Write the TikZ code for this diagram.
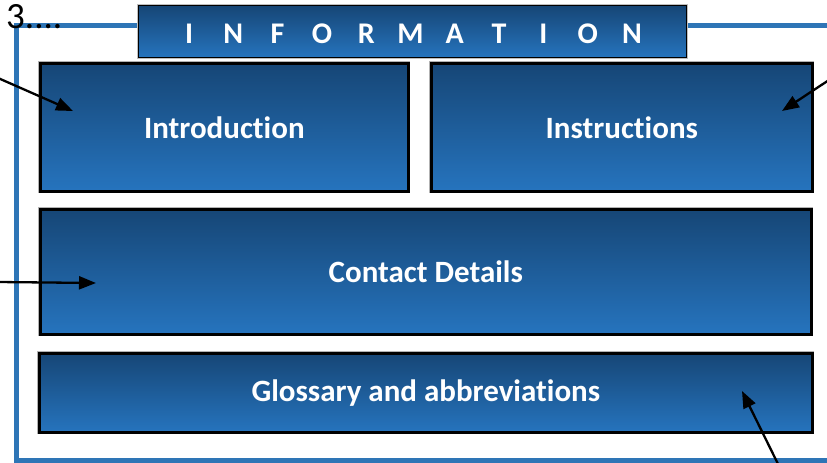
\documentclass[tikz,border=0pt]{standalone}
\usepackage{fontspec}
\setmainfont{Carlito}[Ligatures=NoCommon]
\usetikzlibrary{arrows.meta}
\definecolor{boxtop}{RGB}{22,70,118}
\definecolor{boxbot}{RGB}{38,116,190}
\definecolor{frameblue}{RGB}{46,117,182}
\tikzset{
  infobox/.style={draw=black, line width=2.6pt, top color=boxtop, bottom color=boxbot,
    text=white, font=\fontsize{31}{36}\selectfont\bfseries, anchor=north west,
    inner sep=0pt, preaction={draw=black!30, line width=4pt}},
  titlebox/.style={draw=black, line width=1.3pt, top color=boxtop, bottom color=boxbot,
    anchor=north west, inner sep=0pt,
    preaction={draw=black!25, line width=2.5pt}},
  titleletter/.style={text=white, font=\fontsize{30}{34}\selectfont\bfseries, inner sep=0pt, anchor=base},
  pointer/.style={draw=black, line width=2.3pt, -{Triangle[length=17pt,width=13pt]}},
  frame/.style={draw=frameblue, line width=5pt}
}
\begin{document}
\begin{tikzpicture}[x=1pt,y=-1pt]
\useasboundingbox (0,0) rectangle (827,463);
% outer frame
\draw[frame] (840,25) -- (16,25) -- (16,460) -- (840,460);
% number
\node[anchor=base west, font=\fontsize{37}{37}\selectfont, inner sep=0pt] (num) at (6,28) {3....};
% title
\node[titlebox, minimum width=548pt, minimum height=52pt] (title) at (138,5) {};
\foreach \ch [count=\i from 0] in {I,N,F,O,R,M,A,T,I,O,N}
  \node[titleletter] (t\i) at (189+44.3*\i,43) {\ch};
% boxes
\node[infobox, minimum width=368pt, minimum height=128pt] (intro) at (39,62) {Introduction};
\node[infobox, minimum width=381pt, minimum height=128pt] (instr) at (430,62) {Instructions};
\node[infobox, minimum width=771pt, minimum height=125pt] (contact) at (39,208) {Contact Details};
\node[infobox, minimum width=773pt, minimum height=79pt] (gloss) at (38,352) {Glossary and abbreviations};
% pointer ends
\coordinate (p1) at (-2,78);
\coordinate (q1) at (73,111);
\coordinate (p2) at (829,80);
\coordinate (q2) at (782,111);
\coordinate (p3) at (-2,282);
\coordinate (q3) at (96,283);
\coordinate (p4) at (779,466);
\coordinate (q4) at (742,391);
\draw[pointer] (p1) -- (q1);
\draw[pointer] (p2) -- (q2);
\draw[pointer] (p3) -- (q3);
\draw[pointer] (p4) -- (q4);
\end{tikzpicture}
\end{document}
